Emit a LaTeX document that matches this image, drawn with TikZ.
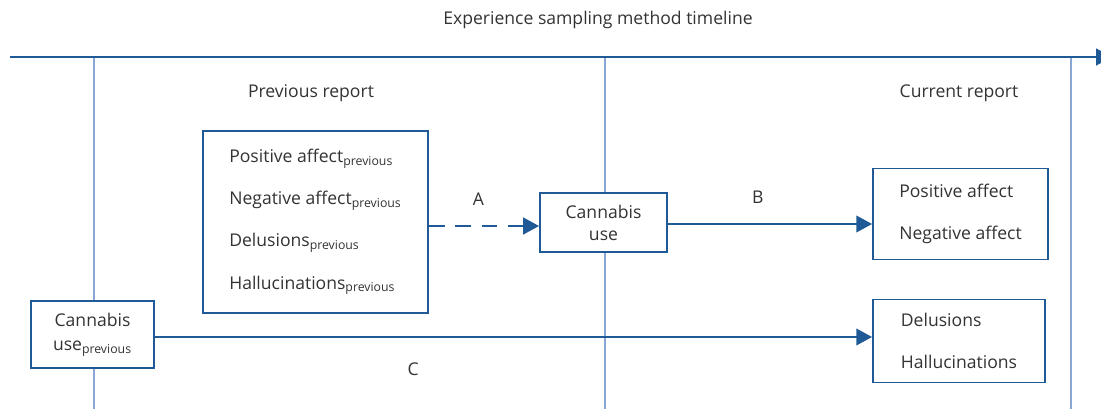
\documentclass[tikz,border=0pt]{standalone}
\usepackage{fontspec}
\setmainfont{Open Sans}
\usetikzlibrary{arrows.meta}
\definecolor{lineblue}{HTML}{1F5A96}
\definecolor{paleblue}{HTML}{8AA6D6}
\definecolor{txtgray}{HTML}{333333}
\newcommand{\prev}{\textsubscript{previous}}
\begin{document}
\begin{tikzpicture}[x=0.02cm, y=-0.02cm,
    font=\fontsize{10}{12}\selectfont, text=txtgray,
    box/.style={draw=lineblue, line width=1.1pt, fill=white, align=center, inner sep=0pt},
    report/.style={box, align=left, font=\fontsize{10}{24}\selectfont},
    arr/.style={draw=lineblue, line width=1.1pt, -{Triangle[length=9pt,width=9.5pt]}},
    tick/.style={draw=paleblue, line width=1.1pt}]
    \useasboundingbox (0,0) rectangle (1101,409);

    % timeline
    \node (title) at (598,20) {Experience sampling method timeline};
    \coordinate (tstart) at (10,57);
    \coordinate (tend) at (1112,57);
    \foreach \x/\n in {94/t1, 605/t2, 1071/t3} {
        \coordinate (\n) at (\x,57);
        \draw[tick] (\n) -- (\n |- 0,409);
    }
    \draw[arr] (tstart) -- (tend);

    \node (prevlbl) at (311,93) {Previous report};
    \node (curlbl) at (959,93) {Current report};

    % boxes
    \node[report, minimum width=4.5cm, minimum height=3.64cm] (prevbox) at (315.5,222) {
        Positive affect\prev\\
        Negative affect\prev\\
        Delusions\prev\\
        Hallucinations\prev};
    \node[box, minimum width=2.54cm, minimum height=1.18cm, font=\fontsize{10}{12.5}\selectfont] (use) at (603.5,222.5) {Cannabis\\use};
    \node[report, minimum width=3.5cm, minimum height=1.82cm] (curtop) at (960.5,214) {
        Positive affect\\
        Negative affect};
    \node[report, minimum width=3.44cm, minimum height=1.66cm] (curlow) at (959,341) {
        Delusions\\
        Hallucinations};
    \node[box, minimum width=2.46cm, minimum height=1.34cm, font=\fontsize{10}{13.6}\selectfont] (useprev) at (92.5,334.5) {Cannabis\\use\prev};

    % paths
    \draw[arr, dashed, dash pattern=on 9pt off 6pt] (prevbox.east |- 0,226) -- (use.west |- 0,226)
        node[pos=0.45, above=11pt, inner sep=0pt] (lblA) {A};
    \draw[arr] (use.east |- 0,224) -- (curtop.west |- 0,224)
        node[pos=0.44, above=11pt, inner sep=0pt] (lblB) {B};
    \draw[arr] (useprev.east |- 0,337) -- (curlow.west |- 0,337)
        node[pos=0.36, below=14pt, inner sep=0pt] (lblC) {C};
\end{tikzpicture}
\end{document}
